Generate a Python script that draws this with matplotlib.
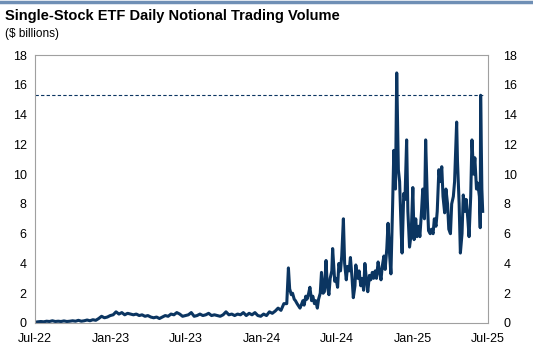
import matplotlib
matplotlib.use("Agg")
import matplotlib.pyplot as plt
import matplotlib.dates as mdates
import numpy as np
import pandas as pd

plt.rcParams['font.family'] = ['Liberation Sans', 'DejaVu Sans']

title = "Single-Stock ETF Daily Notional Trading Volume"
subtitle = "($ billions)"
ref_level = 15.3

dates_2022 = ["2022-07-01","2022-07-08","2022-07-15","2022-07-22","2022-07-29","2022-08-05","2022-08-12",
              "2022-08-19","2022-08-26","2022-09-02","2022-09-09","2022-09-16","2022-09-23","2022-09-30",
              "2022-10-07","2022-10-14","2022-10-21","2022-10-28","2022-11-04","2022-11-11","2022-11-18",
              "2022-11-25","2022-12-02","2022-12-09","2022-12-16","2022-12-23","2022-12-30"]
vals_2022 = [0.05,0.08,0.1,0.08,0.12,0.1,0.15,0.1,0.12,0.1,0.14,0.1,0.12,0.15,0.12,0.18,0.12,0.15,0.2,0.15,
             0.22,0.18,0.3,0.45,0.35,0.4,0.5]

dates_2023 = ["2023-01-06","2023-01-13","2023-01-20","2023-01-27","2023-02-03","2023-02-10","2023-02-17",
              "2023-02-24","2023-03-03","2023-03-10","2023-03-17","2023-03-24","2023-03-31","2023-04-07",
              "2023-04-14","2023-04-21","2023-04-28","2023-05-05","2023-05-12","2023-05-19","2023-05-26",
              "2023-06-02","2023-06-09","2023-06-16","2023-06-23","2023-06-30","2023-07-07","2023-07-14",
              "2023-07-21","2023-07-28","2023-08-04","2023-08-11","2023-08-18","2023-08-25","2023-09-01",
              "2023-09-08","2023-09-15","2023-09-22","2023-09-29","2023-10-06","2023-10-13","2023-10-20",
              "2023-10-27","2023-11-03","2023-11-10","2023-11-17","2023-11-24","2023-12-01","2023-12-08",
              "2023-12-15","2023-12-22","2023-12-29"]
vals_2023 = [0.55,0.75,0.6,0.7,0.55,0.65,0.6,0.55,0.6,0.5,0.55,0.45,0.5,0.4,0.35,0.4,0.3,0.4,0.5,0.45,0.6,
             0.55,0.7,0.6,0.45,0.5,0.55,0.7,0.45,0.5,0.6,0.5,0.55,0.65,0.5,0.55,0.5,0.45,0.55,0.75,0.55,
             0.6,0.5,0.6,0.55,0.7,0.5,0.65,0.55,0.7,0.5,0.45]

dates_2024 = ["2024-01-05","2024-01-12","2024-01-19","2024-01-26","2024-02-02","2024-02-09","2024-02-16",
              "2024-02-23","2024-03-01","2024-03-05","2024-03-08","2024-03-12","2024-03-15","2024-03-19",
              "2024-03-22","2024-03-26","2024-04-02","2024-04-05","2024-04-09","2024-04-12","2024-04-16",
              "2024-04-19","2024-04-23","2024-04-26","2024-04-30","2024-05-03","2024-05-07","2024-05-10",
              "2024-05-14","2024-05-17","2024-05-21","2024-05-24","2024-05-28","2024-05-31","2024-06-04",
              "2024-06-07","2024-06-11","2024-06-14","2024-06-18","2024-06-20","2024-06-25","2024-06-28",
              "2024-07-02","2024-07-05","2024-07-09","2024-07-12","2024-07-16","2024-07-19","2024-07-23",
              "2024-07-26","2024-07-30","2024-08-02","2024-08-06","2024-08-09","2024-08-13","2024-08-15",
              "2024-08-20","2024-08-23","2024-08-27","2024-08-30","2024-09-03","2024-09-06","2024-09-10",
              "2024-09-13","2024-09-17","2024-09-20","2024-09-24","2024-09-27","2024-10-01","2024-10-04",
              "2024-10-08","2024-10-11","2024-10-15","2024-10-18","2024-10-22","2024-10-25","2024-10-29",
              "2024-11-01","2024-11-05","2024-11-08","2024-11-12","2024-11-15","2024-11-19","2024-11-22",
              "2024-11-26","2024-11-29","2024-12-03","2024-12-05","2024-12-09","2024-12-12","2024-12-16",
              "2024-12-19","2024-12-23","2024-12-27","2024-12-31"]
vals_2024 = [0.6,0.5,0.75,0.65,0.8,1.0,0.85,1.3,1.3,3.7,2.3,1.9,2.0,1.6,1.5,1.3,1.0,1.2,1.5,1.2,1.8,1.6,
             2.0,2.4,1.5,1.8,1.3,1.5,1.0,1.6,2.0,3.4,2.0,2.1,4.2,2.5,1.9,3.0,3.5,5.0,2.8,3.0,
             2.4,4.0,3.5,4.5,7.0,4.0,2.9,3.8,3.5,4.4,3.0,1.7,2.5,3.9,3.0,3.5,2.5,3.0,2.2,4.0,2.8,
             2.1,3.2,2.9,3.4,3.0,3.5,3.0,4.1,3.5,2.9,3.8,4.5,3.6,5.0,6.7,4.5,3.3,7.8,11.6,9.0,16.8,
             10.3,9.5,6.0,4.7,8.7,8.3,12.3,7.5,5.1,6.0,9.1]

dates_2025 = ["2025-01-03","2025-01-07","2025-01-10","2025-01-14","2025-01-17","2025-01-21","2025-01-24",
              "2025-01-28","2025-01-31","2025-02-04","2025-02-07","2025-02-11","2025-02-14","2025-02-18",
              "2025-02-21","2025-02-25","2025-02-28","2025-03-04","2025-03-07","2025-03-11","2025-03-14",
              "2025-03-18","2025-03-21","2025-03-25","2025-03-28","2025-04-01","2025-04-04","2025-04-08",
              "2025-04-11","2025-04-16","2025-04-18","2025-04-22","2025-04-25","2025-04-29","2025-05-02",
              "2025-05-06","2025-05-09","2025-05-13","2025-05-16","2025-05-20","2025-05-23","2025-05-27",
              "2025-05-30","2025-06-03","2025-06-06","2025-06-10","2025-06-12","2025-06-13","2025-06-16",
              "2025-06-18"]
vals_2025 = [5.6,7.0,5.8,6.5,5.8,7.5,9.0,7.0,12.3,8.3,6.2,6.0,6.3,6.0,7.0,6.5,7.5,10.3,9.5,10.5,8.5,7.4,
             9.0,8.0,6.3,6.0,8.0,8.5,9.5,13.5,10.9,8.0,4.7,6.0,8.6,7.5,8.3,7.0,5.8,8.5,12.3,10.0,11.1,
             9.0,9.4,8.5,6.4,15.3,9.0,7.5]

y_ticks = [0, 2, 4, 6, 8, 10, 12, 14, 16, 18]
x_tick_dates = ["2022-07-01","2023-01-01","2023-07-01","2024-01-01","2024-07-01","2025-01-01","2025-07-01"]
x_tick_labels = ["Jul-22","Jan-23","Jul-23","Jan-24","Jul-24","Jan-25","Jul-25"]

dates = pd.to_datetime(dates_2022 + dates_2023 + dates_2024 + dates_2025)
values = vals_2022 + vals_2023 + vals_2024 + vals_2025

fig = plt.figure(figsize=(5.33, 3.53), dpi=100)
ax = fig.add_axes([0.0657, 0.085, 0.85, 0.759])

line_color = "#0B3561"
ax.plot(dates, values, color=line_color, lw=2.2, solid_joinstyle='round')
ax.plot([dates[0], dates[-1]], [ref_level, ref_level], color=line_color, lw=0.8, ls=(0, (3, 2)))

xt = pd.to_datetime(x_tick_dates)
ax.set_xlim(xt[0], xt[-1])
ax.set_ylim(0, 18)
ax.set_xticks(xt)
ax.set_xticklabels(x_tick_labels)
ax.set_yticks(y_ticks)
ax.tick_params(axis='y', length=0, labelsize=9, pad=6)
ax.tick_params(axis='x', length=0, labelsize=9, pad=7)
for s in ax.spines.values():
    s.set_color("#A0A0A0")
    s.set_linewidth(0.8)

ax2 = ax.twinx()
ax2.set_ylim(0, 18)
ax2.set_yticks(y_ticks)
ax2.tick_params(length=0, labelsize=9, pad=11)
for s in ax2.spines.values():
    s.set_visible(False)

fig.text(0.010, 0.955, title, fontsize=10.5, fontweight='bold', va='center', ha='left')
fig.text(0.010, 0.905, subtitle, fontsize=8.5, va='center', ha='left')
fig.add_artist(plt.Line2D([0, 1], [0.993, 0.993], color="#6F8FB5", lw=2.5, transform=fig.transFigure))

fig.savefig("out.png", dpi=100)
